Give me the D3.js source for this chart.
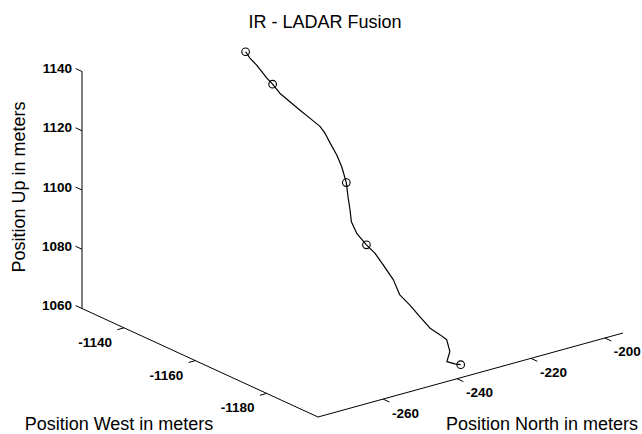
<!DOCTYPE html>
<html>
<head>
<meta charset="utf-8">
<script src="https://cdn.jsdelivr.net/npm/d3@7"></script>
<style>
  html, body { margin: 0; padding: 0; background: #fff; }
  svg { display: block; }
  text { font-family: "Liberation Sans", Arial, Helvetica, sans-serif; fill: #000; }
</style>
</head>
<body>
<svg id="chart" width="642" height="434"></svg>
<script>
// ---- Data (meters) ----
const trackWest  = [-1143.5,-1144.5,-1145.7,-1146.8,-1147.9,-1149.0,-1150.5,-1152.2,-1154.0,-1155.7,-1157.4,-1158.5,-1159.9,-1161.5,-1163.0,-1164.8,-1166.1,-1167.4,-1168.5,-1170.0,-1172.0,-1173.6,-1175.4,-1177.7,-1179.6,-1181.5,-1183.5,-1185.5,-1187.1,-1188.2,-1189.5,-1190.0,-1191.0,-1191.7];
const trackNorth = [-248.1,-247.9,-247.3,-246.9,-246.6,-246.1,-245.6,-244.5,-243.5,-242.4,-241.4,-241.1,-241.0,-240.8,-240.9,-241.4,-242.2,-242.9,-243.6,-243.6,-242.9,-242.1,-241.6,-241.1,-241.2,-240.3,-239.5,-238.7,-237.5,-236.8,-237.2,-238.5,-237.3,-236.4];
const trackUp    = [1145.0,1143.3,1141.5,1139.7,1138.0,1136.4,1134.0,1131.7,1129.5,1127.3,1125.2,1123.4,1120.7,1117.6,1114.5,1110.3,1106.6,1103.0,1099.9,1096.8,1093.8,1091.5,1088.4,1084.5,1080.5,1077.8,1074.7,1071.7,1069.9,1068.6,1065.5,1062.8,1062.2,1062.0];

const markWest  = [-1143.5,-1149.0,-1164.8,-1172.0,-1191.7];
const markNorth = [-248.1,-246.1,-241.4,-242.9,-236.4];
const markUp    = [1145.0,1136.4,1110.3,1093.8,1062.0];

const westLimits  = [-1128.2, -1194.4];
const northLimits = [-277.6, -195.1];
const upLimits    = [1060, 1140];

const westTicks  = [-1140, -1160, -1180];
const northTicks = [-260, -240, -220, -200];
const upTicks    = [1060, 1080, 1100, 1120, 1140];

const titleText  = "IR - LADAR Fusion";
const westLabel  = "Position West in meters";
const northLabel = "Position North in meters";
const upLabel    = "Position Up in meters";

// ---- Projection layout ----
const corner   = [82, 308.5];
const westVec  = [236, 108.5];
const northVec = [305, -84];
const upVec    = [0, -237];

const sW = d3.scaleLinear().domain(westLimits).range([0, 1]);
const sN = d3.scaleLinear().domain(northLimits).range([0, 1]);
const sU = d3.scaleLinear().domain(upLimits).range([0, 1]);

function project(w, n, u) {
  const fw = sW(w), fn = sN(n), fu = sU(u);
  return [
    corner[0] + fw * westVec[0] + fn * northVec[0] + fu * upVec[0],
    corner[1] + fw * westVec[1] + fn * northVec[1] + fu * upVec[1]
  ];
}
function unit(v, s) { const l = Math.hypot(v[0], v[1]); return [s * v[0] / l, s * v[1] / l]; }

const svg = d3.select("#chart");
const g = svg.append("g");
const tickLen = 7;
const tickFont = 13.5;

// Axes lines
const w0 = westLimits[0], w1 = westLimits[1], n0 = northLimits[0], n1 = northLimits[1], u0 = upLimits[0], u1 = upLimits[1];
const axisLine = d3.line();
[[project(w0, n0, u0), project(w1, n0, u0)],
 [project(w1, n0, u0), project(w1, n1, u0)],
 [project(w0, n0, u0), project(w0, n0, u1)]].forEach(seg => {
  g.append("path").attr("d", axisLine(seg)).attr("fill", "none").attr("stroke", "#000").attr("stroke-width", 1);
});

// West ticks (outward: -north direction)
const dW = unit(northVec, -tickLen);
westTicks.forEach(t => {
  const p = project(t, n0, u0);
  g.append("line").attr("x1", p[0]).attr("y1", p[1]).attr("x2", p[0] + dW[0]).attr("y2", p[1] + dW[1])
    .attr("stroke", "#000").attr("stroke-width", 1);
  g.append("text").attr("x", p[0] - 29).attr("y", p[1] + 14.5).attr("text-anchor", "middle")
    .attr("dominant-baseline", "central").attr("font-size", tickFont).attr("font-weight", "bold").text(String(t));
});

// North ticks (outward: along west axis direction)
const dN = unit(westVec, tickLen);
northTicks.forEach(t => {
  const p = project(w1, t, u0);
  g.append("line").attr("x1", p[0]).attr("y1", p[1]).attr("x2", p[0] + dN[0]).attr("y2", p[1] + dN[1])
    .attr("stroke", "#000").attr("stroke-width", 1);
  g.append("text").attr("x", p[0] + 22.5).attr("y", p[1] + 14).attr("text-anchor", "middle")
    .attr("dominant-baseline", "central").attr("font-size", tickFont).attr("font-weight", "bold").text(String(t));
});

// Up ticks (outward: +west direction)
const dU = unit(westVec, -tickLen);
upTicks.forEach(t => {
  const p = project(w0, n0, t);
  g.append("line").attr("x1", p[0]).attr("y1", p[1]).attr("x2", p[0] + dU[0]).attr("y2", p[1] + dU[1])
    .attr("stroke", "#000").attr("stroke-width", 1);
  g.append("text").attr("x", p[0] + dU[0] - 3.5).attr("y", p[1] + dU[1]).attr("text-anchor", "end")
    .attr("dominant-baseline", "central").attr("font-size", tickFont).attr("font-weight", "bold").text(String(t));
});

// Trajectory
const track = trackWest.map((w, i) => project(w, trackNorth[i], trackUp[i]));
g.append("path").attr("d", d3.line()(track)).attr("fill", "none")
  .attr("stroke", "#000").attr("stroke-width", 1.2).attr("stroke-linejoin", "round");

// Markers
const marks = markWest.map((w, i) => project(w, markNorth[i], markUp[i]));
g.selectAll("circle.mk").data(marks).enter().append("circle").attr("class", "mk")
  .attr("cx", d => d[0]).attr("cy", d => d[1]).attr("r", 3.8)
  .attr("fill", "none").attr("stroke", "#000").attr("stroke-width", 1.1);

// Labels
svg.append("text").attr("x", 325).attr("y", 28).attr("text-anchor", "middle")
  .attr("font-size", 18).text(titleText);
svg.append("text").attr("x", 119).attr("y", 430).attr("text-anchor", "middle")
  .attr("font-size", 18).text(westLabel);
svg.append("text").attr("x", 542).attr("y", 430).attr("text-anchor", "middle")
  .attr("font-size", 18).text(northLabel);
svg.append("text").attr("transform", "translate(24.5,187) rotate(-90)").attr("text-anchor", "middle")
  .attr("font-size", 18).text(upLabel);
</script>
</body>
</html>
